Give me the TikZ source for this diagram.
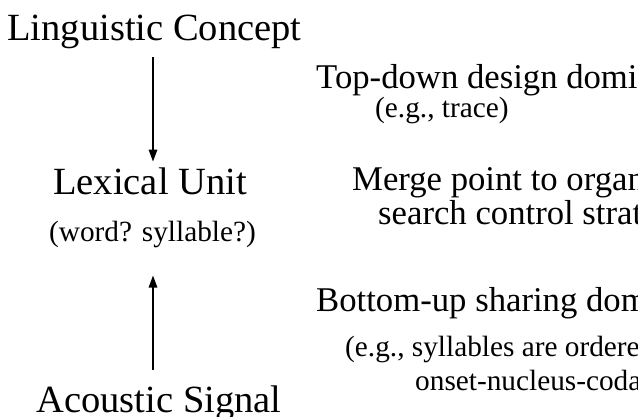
\documentclass[tikz,border=0pt]{standalone}
\usepackage{fontspec}
\setmainfont{Liberation Serif}
\usetikzlibrary{arrows.meta}

\begin{document}
\begin{tikzpicture}[x=1pt,y=-1pt,
  level/.style={inner sep=0pt,font=\fontsize{38.5}{40}\selectfont},
  note/.style={inner sep=0pt,anchor=base west,font=\fontsize{34.7}{36}\selectfont},
  subnote/.style={inner sep=0pt,anchor=base west,font=\fontsize{29.3}{30}\selectfont},
  flow/.style={line width=1.5pt,-{Triangle[length=12pt,width=8.5pt]}}]
\useasboundingbox (0,0) rectangle (638,417);
\clip (0,0) rectangle (638,417);

% processing levels
\node[level,anchor=base] (lc) at (154.5,41)  {Linguistic Concept};
\node[level,anchor=base] (lu) at (150,195)   {Lexical Unit};
\node[subnote,anchor=base] (ws) at (152.5,241) {(word? syllable?)};
\node[level,anchor=base] (as) at (159,412)   {Acoustic Signal};

% vertical axis of the arrows
\coordinate (axis) at (153,0);
\draw[flow,shorten <=7.5pt,shorten >=6.5pt] (lc.south -| axis) -- (lu.north -| axis);
\draw[flow,shorten <=15.5pt,shorten >=28pt] (as.north -| axis) -- (ws.south -| axis);

% annotations on the right
\node[note]    (td)  at (316,89)  {Top-down design dominates};
\node[subnote] (tdx) at (375,118) {(e.g., trace)};
\node[note]    (mp1) at (352,191) {Merge point to organize};
\node[note]    (mp2) at (378,225) {search control strategy};
\node[note]    (bu)  at (316,311) {Bottom-up sharing dominates};
\node[subnote] (bux1) at (345,356) {(e.g., syllables are ordered};
\node[subnote] (bux2) at (415,390) {onset-nucleus-coda)};
\end{tikzpicture}
\end{document}
